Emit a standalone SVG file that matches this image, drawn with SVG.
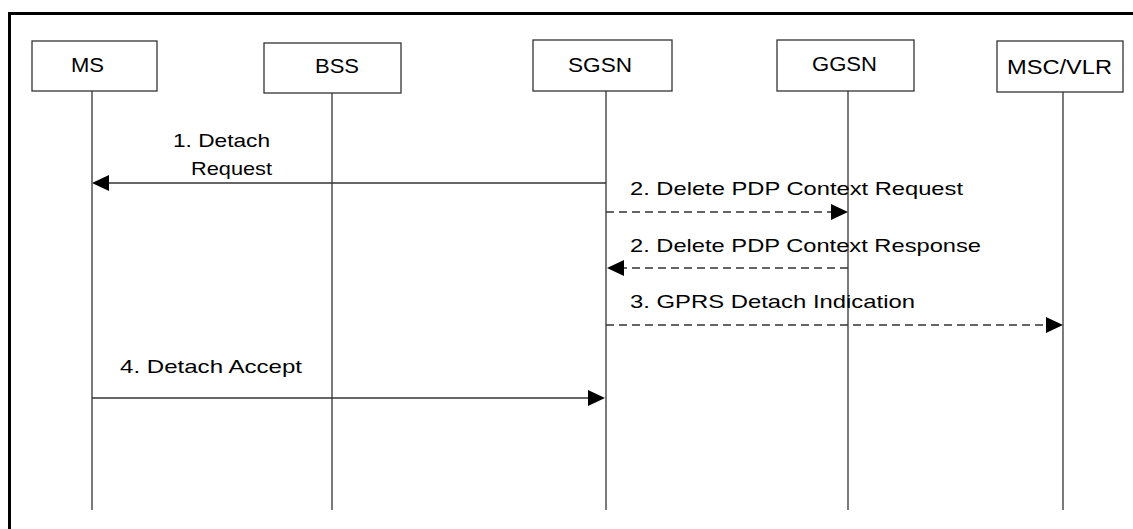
<svg xmlns="http://www.w3.org/2000/svg" width="1133" height="529" viewBox="0 0 1133 529">
<defs>
<style>
.box{fill:#fff;stroke:#333;stroke-width:1.3}
.life{stroke:#333;stroke-width:1.3;fill:none}
.lbl{font-family:"Liberation Sans",Arial,sans-serif;font-size:21px;fill:#000}
.msg{font-family:"Liberation Sans",Arial,sans-serif;font-size:19px;fill:#000}
.solid{stroke:#333;stroke-width:1.3;fill:none}
.dash{stroke:#333;stroke-width:1.3;fill:none;stroke-dasharray:8 5}
.head{fill:#000}
</style>
</defs>
<rect width="1133" height="529" fill="#fff"/>
<g id="frame">
<path d="M9.5,529 V13.5 H1133" fill="none" stroke="#000" stroke-width="3"/>
</g>
<g id="MS">
<rect class="box" x="32" y="41" width="125" height="50"/>
<line class="life" x1="92" y1="91" x2="92" y2="510"/>
<text class="lbl" x="71" y="72" textLength="33" lengthAdjust="spacingAndGlyphs">MS</text>
</g>
<g id="BSS">
<rect class="box" x="264" y="43" width="137" height="50"/>
<line class="life" x1="332" y1="93" x2="332" y2="510"/>
<text class="lbl" x="315" y="73" textLength="44" lengthAdjust="spacingAndGlyphs">BSS</text>
</g>
<g id="SGSN">
<rect class="box" x="533" y="40" width="139" height="51"/>
<line class="life" x1="606" y1="91" x2="606" y2="510"/>
<text class="lbl" x="568" y="72" textLength="64" lengthAdjust="spacingAndGlyphs">SGSN</text>
</g>
<g id="GGSN">
<rect class="box" x="777" y="40" width="137" height="51"/>
<line class="life" x1="848" y1="91" x2="848" y2="510"/>
<text class="lbl" x="812" y="71" textLength="65" lengthAdjust="spacingAndGlyphs">GGSN</text>
</g>
<g id="MSCVLR">
<rect class="box" x="997" y="41" width="126" height="51"/>
<line class="life" x1="1063" y1="92" x2="1063" y2="510"/>
<text class="lbl" x="1007" y="74" textLength="105" lengthAdjust="spacingAndGlyphs">MSC/VLR</text>
</g>
<g id="connectors">
<line class="solid" x1="606" y1="183" x2="108" y2="183"/>
<polygon class="head" points="92,183 109,175 109,191"/>
<text class="msg" x="173" y="147" textLength="97" lengthAdjust="spacingAndGlyphs">1. Detach</text>
<text class="msg" x="191" y="175" textLength="81" lengthAdjust="spacingAndGlyphs">Request</text>

<line class="dash" x1="606" y1="212" x2="832" y2="212"/>
<polygon class="head" points="848,212 831,204 831,220"/>
<text class="msg" x="630" y="195" textLength="333" lengthAdjust="spacingAndGlyphs">2. Delete PDP Context Request</text>

<line class="dash" x1="848" y1="268" x2="622" y2="268"/>
<polygon class="head" points="607,268 624,260 624,276"/>
<text class="msg" x="630" y="252" textLength="351" lengthAdjust="spacingAndGlyphs">2. Delete PDP Context Response</text>

<line class="dash" x1="606" y1="325" x2="1047" y2="325"/>
<polygon class="head" points="1063,325 1046,317 1046,333"/>
<text class="msg" x="630" y="308" textLength="285" lengthAdjust="spacingAndGlyphs">3. GPRS Detach Indication</text>

<line class="solid" x1="92" y1="398" x2="590" y2="398"/>
<polygon class="head" points="605,398 588,390 588,406"/>
<text class="msg" x="120" y="373" textLength="182" lengthAdjust="spacingAndGlyphs">4. Detach Accept</text>
</g>
</svg>
